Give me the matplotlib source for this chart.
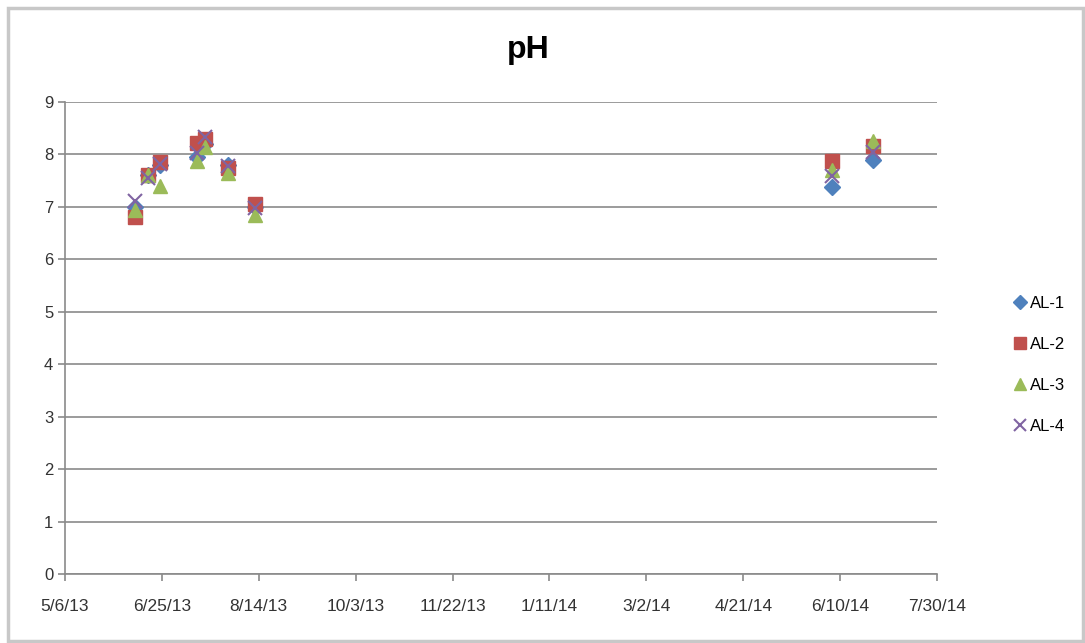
import numpy as np
import matplotlib
matplotlib.use('Agg')
import matplotlib.pyplot as plt
import matplotlib.dates as mdates
from matplotlib.patches import Rectangle
import datetime as dt

# fechas de muestreo
dates = ['2013-06-11', '2013-06-18', '2013-06-24', '2013-07-13', '2013-07-17',
         '2013-07-29', '2013-08-12', '2014-06-06', '2014-06-27']

al1 = [7.0, 7.6, 7.8, 7.95, 8.2, 7.8, 7.0, 7.38, 7.9]
al2 = [6.8, 7.6, 7.85, 8.22, 8.3, 7.75, 7.05, 7.88, 8.17]
al3 = [6.95, 7.6, 7.4, 7.88, 8.15, 7.65, 6.85, 7.7, 8.25]
al4 = [7.12, 7.56, 7.82, 8.02, 8.33, 7.78, 6.98, 7.58, 8.05]

series = ['AL-1', 'AL-2', 'AL-3', 'AL-4']
tick_labels = ['5/6/13', '6/25/13', '8/14/13', '10/3/13', '11/22/13',
               '1/11/14', '3/2/14', '4/21/14', '6/10/14', '7/30/14']

plt.rcParams['font.family'] = ['Liberation Sans', 'DejaVu Sans']

x = [dt.datetime.strptime(d, '%Y-%m-%d') for d in dates]
start = dt.datetime(2013, 5, 6)
ticks = [start + dt.timedelta(days=50 * i) for i in range(10)]

fig = plt.figure(figsize=(10.85, 6.43), dpi=100)
fig.patches.append(Rectangle((8 / 1085, 2 / 643), 1075 / 1085, 633 / 643,
                             transform=fig.transFigure, fill=False,
                             edgecolor='#c8c8c8', linewidth=2.5))
ax = fig.add_axes([65 / 1085, 69 / 643, 872 / 1085, 472 / 643])

ax.plot(x, al1, linestyle='none', marker='D', ms=8, color='#4F81BD', label=series[0])
ax.plot(x, al2, linestyle='none', marker='s', ms=10.5, color='#C0504D', label=series[1])
ax.plot(x, al3, linestyle='none', marker='^', ms=10.5, color='#9BBB59', label=series[2])
ax.plot(x, al4, linestyle='none', marker='x', ms=10, mew=1.5, color='#8064A2', label=series[3])

ax.set_xlim(ticks[0], ticks[-1])
ax.set_ylim(0, 9)
ax.set_xticks(ticks)
ax.set_xticklabels(tick_labels, fontsize=12.5, color='#333333')
ax.set_yticks(range(10))
ax.set_yticklabels([str(i) for i in range(10)], fontsize=12, color='#333333')
ax.yaxis.grid(True, color='#8a8a8a', linewidth=1.2)
ax.set_axisbelow(True)
for s in ['top', 'right']:
    ax.spines[s].set_visible(False)
for s in ['left', 'bottom']:
    ax.spines[s].set_color('#8a8a8a')
    ax.spines[s].set_linewidth(1.2)
ax.tick_params(axis='both', color='#8a8a8a', length=5, width=1.2)
ax.tick_params(axis='x', pad=13)

fig.text(528 / 1085, 1 - 50 / 643, 'pH', fontsize=23, fontweight='bold',
         ha='center', va='center')

leg = ax.legend(loc='center left', bbox_to_anchor=(1.065, 0.443), frameon=False,
                fontsize=12, handletextpad=0.0, labelspacing=1.55, handlelength=1.3,
                markerscale=0.85)

plt.savefig('out.png', dpi=100)
